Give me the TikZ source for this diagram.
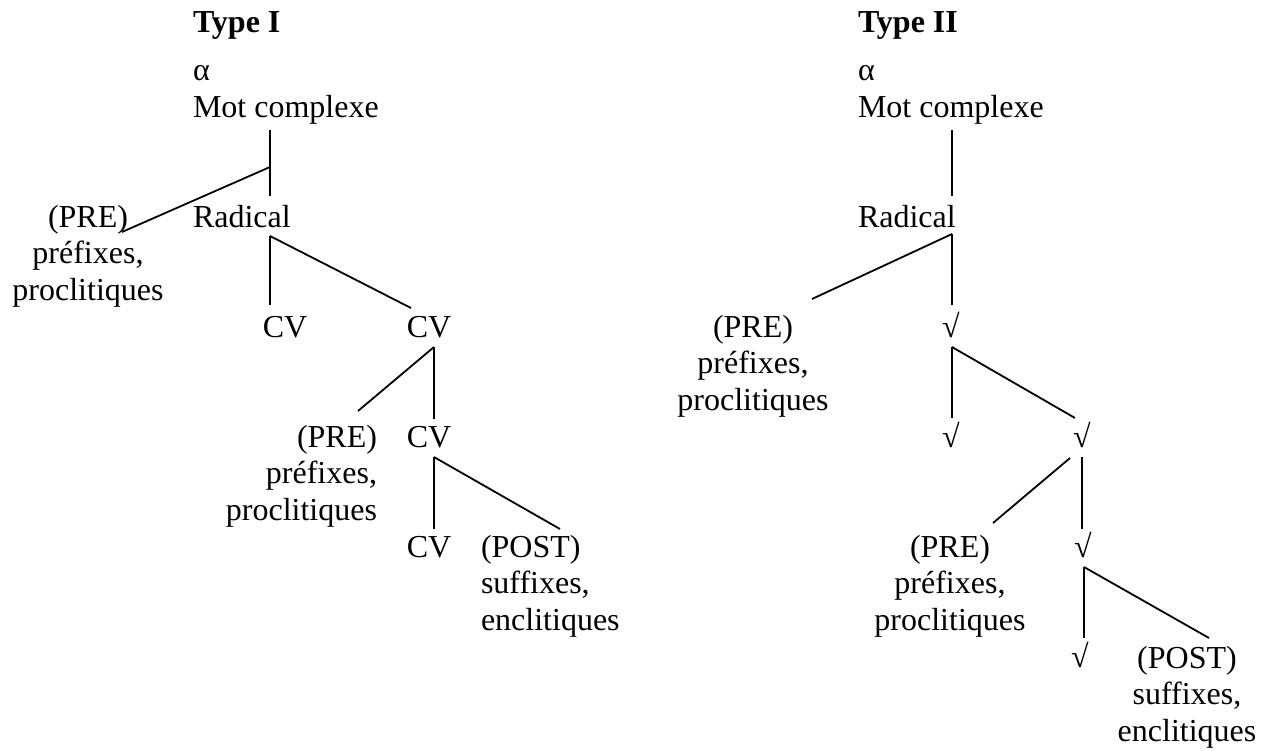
\documentclass[tikz,border=0pt]{standalone}
\usepackage{fontspec}
\setmainfont{Liberation Serif}
\newcommand{\bigtxt}{\fontsize{32}{36.8}\selectfont}
\newcommand{\blockc}[1]{\begin{tabular}[t]{@{}c@{}}#1\end{tabular}}
\newcommand{\blockr}[1]{\begin{tabular}[t]{@{}r@{}}#1\end{tabular}}
\newcommand{\blockl}[1]{\begin{tabular}[t]{@{}l@{}}#1\end{tabular}}
\begin{document}
\begin{tikzpicture}[x=1pt,y=-1pt]
\tikzset{
  lbl/.style={inner sep=0pt, outer sep=0pt, font=\bigtxt},
  ttl/.style={lbl, font=\bigtxt\bfseries},
  ln/.style={line width=1.8pt, line cap=butt}
}
\useasboundingbox (0,0) rectangle (1269,750);

% ---------- Type I ----------
\node[ttl, anchor=base west] (t1) at (193,32) {Type I};
\node[lbl, anchor=base west] (a1) at (193,80) {α};
\node[lbl, anchor=base west] (m1) at (193,117) {Mot complexe};
\node[lbl, anchor=base west] (r1) at (193,227) {Radical};
\node[lbl, anchor=base] (pre1) at (88,227) {\blockc{(PRE)\\préfixes,\\proclitiques}};
\node[lbl, anchor=base] (cv1a) at (285,337) {CV};
\node[lbl, anchor=base] (cv1b) at (429,337) {CV};
\node[lbl, anchor=base east] (pre2) at (377,447) {\blockr{(PRE)\\préfixes,\\proclitiques}};
\node[lbl, anchor=base] (cv2) at (429,447) {CV};
\node[lbl, anchor=base] (cv3) at (429,557) {CV};
\node[lbl, anchor=base west] (post1) at (481,557) {\blockl{(POST)\\suffixes,\\enclitiques}};

\coordinate (m1b) at (270,130);
\coordinate (r1t) at (270,196);
\coordinate (m1j) at (270,167);
\coordinate (pre1t) at (122,232);
\coordinate (r1b) at (270,236);
\coordinate (cv1at) at (270,305);
\coordinate (cv1bt) at (411,308);
\coordinate (cv1bb) at (434,347);
\coordinate (pre2t) at (358,411);
\coordinate (cv2t) at (434,419);
\coordinate (cv2b) at (434,457);
\coordinate (cv3t) at (434,529);
\coordinate (post1t) at (560,529);

\draw[ln] (m1b) -- (r1t);
\draw[ln] (m1j) -- (pre1t);
\draw[ln] (r1b) -- (cv1at);
\draw[ln] (r1b) -- (cv1bt);
\draw[ln] (cv1bb) -- (pre2t);
\draw[ln] (cv1bb) -- (cv2t);
\draw[ln] (cv2b) -- (cv3t);
\draw[ln] (cv2b) -- (post1t);

% ---------- Type II ----------
\node[ttl, anchor=base west] (t2) at (858,32) {Type II};
\node[lbl, anchor=base west] (a2) at (858,80) {α};
\node[lbl, anchor=base west] (m2) at (858,117) {Mot complexe};
\node[lbl, anchor=base west] (r2) at (858,227) {Radical};
\node[lbl, anchor=base] (pre3) at (753,337) {\blockc{(PRE)\\préfixes,\\proclitiques}};
\node[lbl, anchor=base] (s1) at (951,337) {√};
\node[lbl, anchor=base] (s2a) at (951,447) {√};
\node[lbl, anchor=base] (s2b) at (1082,447) {√};
\node[lbl, anchor=base] (pre4) at (950,557) {\blockc{(PRE)\\préfixes,\\proclitiques}};
\node[lbl, anchor=base] (s3) at (1083,557) {√};
\node[lbl, anchor=base] (s4) at (1080,667) {√};
\node[lbl, anchor=base] (post2) at (1187,668) {\blockc{(POST)\\suffixes,\\enclitiques}};

\coordinate (m2b) at (952,130);
\coordinate (r2t) at (952,196);
\coordinate (r2b) at (952,234);
\coordinate (s1t) at (952,305);
\coordinate (pre3t) at (812,299);
\coordinate (s1b) at (952,347);
\coordinate (s2at) at (952,418);
\coordinate (s2bt) at (1075,418);
\coordinate (s2bb) at (1082,457);
\coordinate (s2bj) at (1070,458);
\coordinate (s3t) at (1082,529);
\coordinate (pre4t) at (993,523);
\coordinate (s3b) at (1084,567);
\coordinate (s4t) at (1084,638);
\coordinate (post2t) at (1209,638);

\draw[ln] (m2b) -- (r2t);
\draw[ln] (r2b) -- (s1t);
\draw[ln] (r2b) -- (pre3t);
\draw[ln] (s1b) -- (s2at);
\draw[ln] (s1b) -- (s2bt);
\draw[ln] (s2bb) -- (s3t);
\draw[ln] (s2bj) -- (pre4t);
\draw[ln] (s3b) -- (s4t);
\draw[ln] (s3b) -- (post2t);
\end{tikzpicture}
\end{document}
